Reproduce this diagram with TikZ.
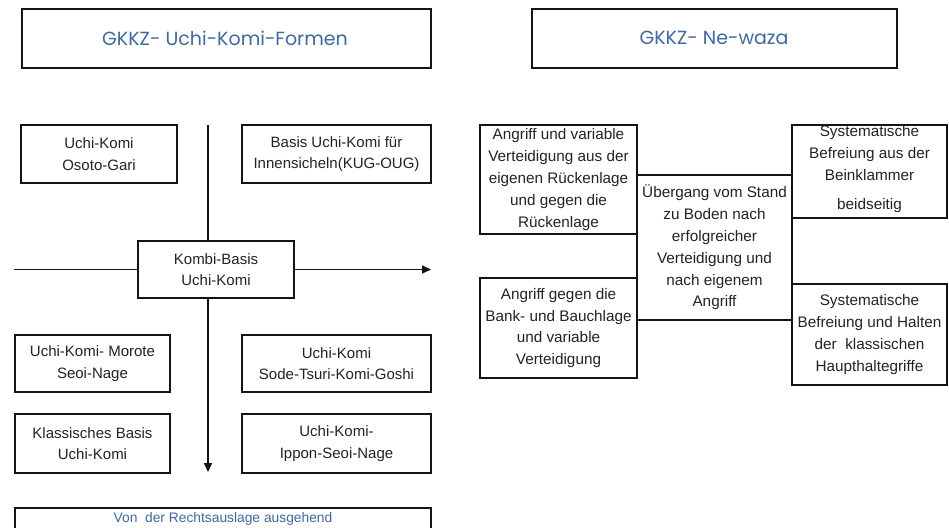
\documentclass[tikz,border=0pt]{standalone}
\usepackage{fontspec}
\setmainfont{Liberation Sans}
\newfontfamily\titlefont{Poppins}
\usetikzlibrary{arrows.meta}
\definecolor{titleblue}{RGB}{65,105,155}
\definecolor{txtgray}{RGB}{35,35,35}
\definecolor{linegray}{RGB}{20,20,20}
\begin{document}
\begin{tikzpicture}[x=1pt,y=-1pt,
  box/.style={draw=linegray, line width=1.5pt, inner sep=0pt, text=txtgray, align=center, font=\fontsize{15}{21.4}\selectfont},
  rbox/.style={box, font=\fontsize{15.3}{21.8}\selectfont},
  titlebox/.style={draw=linegray, line width=1.8pt, inner sep=0pt},
  ttl/.style={text=titleblue, font=\titlefont\fontsize{19}{22}\selectfont, inner sep=0pt},
  lbl/.style={text=txtgray, align=center, inner sep=0pt},
  conn/.style={draw=linegray, line width=1.6pt},
  arr/.style={conn, -{Triangle[length=9pt,width=8pt]}},
]
\useasboundingbox (0,0) rectangle (949,527);
\clip (0,0) rectangle (949,527);
\fill[white] (0,0) rectangle (949,527);

% ---------- left part ----------
\node[titlebox, minimum width=409pt, minimum height=59pt] (t1) at (226.5,38.5) {};
\node[ttl] (t1txt) at (225,38) {GKKZ- Uchi-Komi-Formen};

\coordinate (vtop) at (208,125);
\coordinate (vbot) at (208,472);
\coordinate (hleft) at (14,269.5);
\coordinate (hright) at (431,269.5);

\node[box, minimum width=156pt, minimum height=58pt] (osoto) at (99,154) {Uchi-Komi\\Osoto-Gari};
\node[box, minimum width=189pt, minimum height=58pt] (innen) at (336.5,154) {Basis Uchi-Komi für\\Innensicheln(KUG-OUG)};
\node[box, minimum width=156pt, minimum height=57pt] (kombi) at (216,269.5) {Kombi-Basis\\Uchi-Komi};
\node[box, minimum width=155pt, minimum height=57pt] (morote) at (92.5,363.5) {Uchi-Komi- Morote\\Seoi-Nage};
\node[box, minimum width=189pt, minimum height=57pt] (sode) at (336.5,363.5) {Uchi-Komi\\Sode-Tsuri-Komi-Goshi};
\node[box, minimum width=155pt, minimum height=59pt] (klass) at (92.5,443.5) {Klassisches Basis\\Uchi-Komi};
\node[box, minimum width=189pt, minimum height=59pt] (ippon) at (336.5,443.5) {Uchi-Komi-\\Ippon-Seoi-Nage};
\node[box, minimum width=416pt, minimum height=37pt] (rechts) at (223,526.5) {};
\node[lbl, text=titleblue, font=\fontsize{13.8}{16}\selectfont] (rechtstxt) at (223,519) {Von\ \ der Rechtsauslage ausgehend};

\draw[conn] (vtop) -- (vtop |- kombi.north);
\draw[arr] (kombi.south -| vtop) -- (vbot);
\draw[conn] (hleft) -- (kombi.west);
\draw[arr] (kombi.east) -- (hright);

% ---------- right part ----------
\node[titlebox, minimum width=365pt, minimum height=59pt] (t2) at (714.5,38.5) {};
\node[ttl] (t2txt) at (714,38) {GKKZ- Ne-waza};

\node[rbox, minimum width=155pt, minimum height=145pt] (center) at (714.5,247.5) {Übergang vom Stand\\zu Boden nach\\erfolgreicher\\Verteidigung und\\nach eigenem\\Angriff};
\node[rbox, minimum width=157pt, minimum height=109pt] (lt) at (558.5,179.5) {Angriff und variable\\Verteidigung aus der\\eigenen Rückenlage\\und gegen die\\Rückenlage};
\node[rbox, minimum width=157pt, minimum height=100pt] (lb) at (558.5,328) {Angriff gegen die\\Bank- und Bauchlage\\und variable\\Verteidigung};
\node[rbox, minimum width=155pt, minimum height=93pt] (rt) at (869.5,171.5) {};
\node[lbl, font=\fontsize{15.3}{22}\selectfont] (rttxt) at (869.5,169.5) {Systematische\\Befreiung aus der\\Beinklammer\\[7pt]beidseitig};
\node[rbox, minimum width=155pt, minimum height=101pt] (rb) at (869.5,334.5) {Systematische\\Befreiung und Halten\\der\ \ klassischen\\Haupthaltegriffe};
\end{tikzpicture}
\end{document}
